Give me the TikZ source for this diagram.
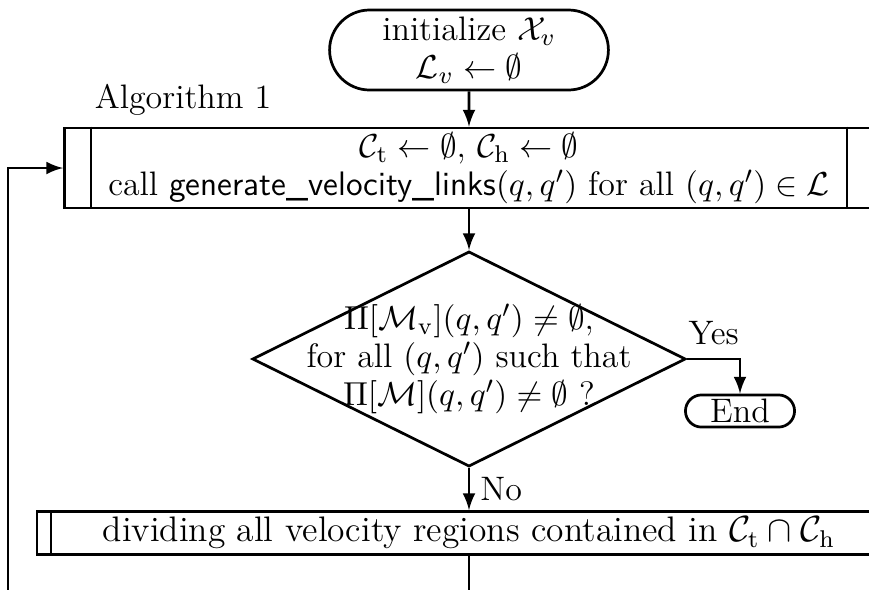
\documentclass[tikz,border=0pt]{standalone}
\usepackage{amsmath,amssymb}
\usetikzlibrary{shapes.geometric,shapes.misc,positioning}

\tikzset{
  every node/.style={font=\fontsize{11.2}{12.6}\selectfont},
  flowline/.style={line width=0.9pt},
  terminal/.style={rounded rectangle, draw, flowline, align=center, inner sep=1pt},
  process/.style={rectangle, draw, flowline, align=center, inner sep=1pt},
  decision/.style={diamond, draw, flowline, align=center, aspect=2, inner sep=-10pt,
    minimum width=143pt, minimum height=71pt},
  >=latex
}

\begin{document}
\begin{tikzpicture}[x=0.0116cm, y=-0.0116cm]
  \useasboundingbox (0,0) rectangle (869,589);
  \clip (0,0) rectangle (869,589);

  \node[terminal, minimum width=94pt, minimum height=26.4pt] (init) at (469,50)
    {initialize $\mathcal{X}_v$\\ $\mathcal{L}_v \leftarrow \emptyset$};

  \node[process, minimum width=267pt, minimum height=26.4pt] (alg) at (469,168)
    {$\mathcal{C}_\mathrm{t} \leftarrow \emptyset$, $\mathcal{C}_\mathrm{h} \leftarrow \emptyset$\\
     call \textsf{generate\_velocity\_links}$(q,q')$ for all $(q,q') \in \mathcal{L}$};
  \draw[flowline] ([xshift=9.2pt]alg.north west) -- ([xshift=9.2pt]alg.south west);
  \draw[flowline] ([xshift=-9.2pt]alg.north east) -- ([xshift=-9.2pt]alg.south east);
  \node[above right=0pt and 7pt of alg.north west] (alglabel) {Algorithm 1};

  \node[decision] (dec) at (469,359)
    {$\Pi[\mathcal{M}_\mathrm{v}](q,q') \neq \emptyset$,\\
     for all $(q,q')$ such that\\
     $\Pi[\mathcal{M}](q,q') \neq \emptyset$ ?};

  \node[terminal, minimum width=38pt, minimum height=10.6pt] (end) at (740,411) {End};

  \node[process, minimum width=285pt, minimum height=14.2pt,
        font=\fontsize{11.7}{13}\selectfont] (divide) at (469,533)
    {dividing all velocity regions contained in $\mathcal{C}_\mathrm{t} \cap \mathcal{C}_\mathrm{h}$};
  \draw[flowline] ([xshift=5pt]divide.north west) -- ([xshift=5pt]divide.south west);
  \draw[flowline] ([xshift=-5pt]divide.north east) -- ([xshift=-5pt]divide.south east);

  \coordinate (down) at (469,600);
  \coordinate (back) at (8,600);

  \draw[flowline,->] (init) -- (alg);
  \draw[flowline,->] (alg) -- (dec);
  \draw[flowline,->] (dec.east) -| (end.north);
  \node[above right=1pt and -3pt of dec.east] (yes) {Yes};
  \draw[flowline,->] (dec.south) -- node[right] (no) {No} (divide.north);
  \draw[flowline] (divide.south) -- (down);
  \draw[flowline,->] (back) |- (alg.west);
\end{tikzpicture}
\end{document}
